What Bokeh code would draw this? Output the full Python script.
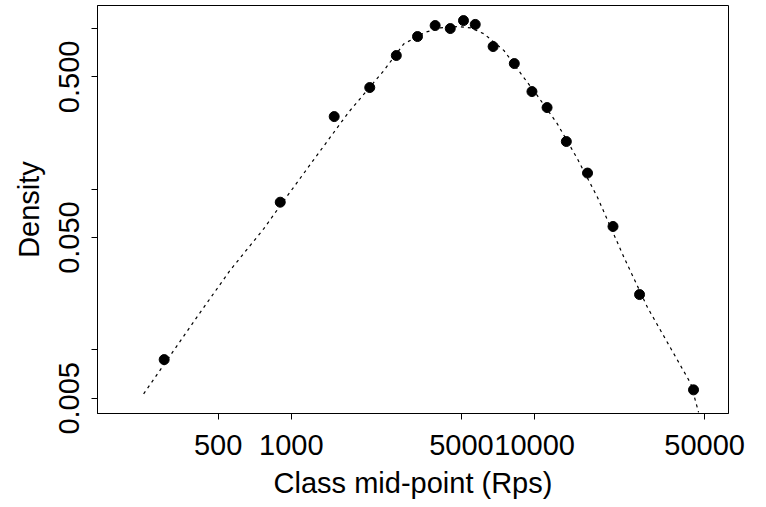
from bokeh.plotting import figure
from bokeh.models import Range1d, FixedTicker, NumeralTickFormatter
from bokeh.embed import file_html
from bokeh.resources import INLINE

# Observed class mid-points (Rps) and densities
class_mid = [300, 900, 1500, 2100, 2700, 3300, 3900, 4500, 5100, 5700,
             6750, 8250, 9750, 11250, 13500, 16500, 21000, 27000, 45000]
density = [0.0087, 0.083, 0.283, 0.429, 0.679, 0.891, 1.043, 0.999, 1.12, 1.06,
           0.772, 0.605, 0.405, 0.322, 0.198, 0.126, 0.0586, 0.0221, 0.00564]

# Fitted density curve
fit_x = [247, 409, 561, 769, 930, 1276, 1722, 2399, 2899, 3557, 4102, 4807,
         5454, 6187, 7477, 8900, 10250, 12400, 14990, 18120, 23290, 29090,
         43850, 47200]
fit_y = [0.00533, 0.0160, 0.0314, 0.0566, 0.0846, 0.163, 0.302, 0.547, 0.802,
         0.948, 1.009, 1.028, 1.009, 0.927, 0.730, 0.509, 0.383, 0.255, 0.1546,
         0.0891, 0.0377, 0.0184, 0.00617, 0.00409]

x_ticks = [500, 1000, 5000, 10000, 50000]
x_tick_labels = ["500", "1000", "5000", "10000", "50000"]
y_ticks = [0.005, 0.05, 0.5]
y_tick_labels = ["0.005", "0.050", "0.500"]
y_minor_ticks = [0.01, 0.1, 1.0]

FONT = "Liberation Sans"

p = figure(width=766, height=507, x_axis_type="log", y_axis_type="log",
           x_range=Range1d(159.6, 62660), y_range=Range1d(0.00402, 1.39),
           output_backend="svg", toolbar_location=None,
           min_border_left=97, min_border_right=38, min_border_top=5,
           min_border_bottom=94, background_fill_color="white",
           border_fill_color="white")

p.xgrid.visible = False
p.ygrid.visible = False
p.outline_line_color = "black"
p.outline_line_width = 1
p.outline_line_alpha = 1

p.line(fit_x, fit_y, line_color="black", line_width=1.2, line_dash="3 4")
p.scatter(class_mid, density, size=10, marker="circle", fill_color="black",
          line_color="black")

xa = p.xaxis[0]
xa.ticker = FixedTicker(ticks=x_ticks, minor_ticks=[])
xa.formatter = NumeralTickFormatter(format="0")
xa.major_label_overrides = {float(t): l for t, l in zip(x_ticks, x_tick_labels)}
xa.axis_label = "Class mid-point (Rps)"

ya = p.yaxis[0]
ya.ticker = FixedTicker(ticks=y_ticks, minor_ticks=y_minor_ticks)
ya.formatter = NumeralTickFormatter(format="0.000")
ya.major_label_overrides = {float(t): l for t, l in zip(y_ticks, y_tick_labels)}
ya.axis_label = "Density"
ya.major_label_orientation = "vertical"

for ax in (xa, ya):
    ax.axis_line_color = "black"
    ax.major_tick_line_color = "black"
    ax.minor_tick_line_color = "black"
    ax.major_tick_in = 0
    ax.major_tick_out = 6
    ax.minor_tick_in = 0
    ax.minor_tick_out = 6
    ax.major_label_text_font = FONT
    ax.major_label_text_font_size = "29px"
    ax.major_label_text_color = "black"
    ax.axis_label_text_font = FONT
    ax.axis_label_text_font_size = "29px"
    ax.axis_label_text_font_style = "normal"
    ax.axis_label_text_color = "black"

xa.minor_tick_line_color = None
xa.major_label_standoff = 15
xa.axis_label_standoff = 9
ya.major_label_standoff = 12
ya.axis_label_standoff = 12

open("out.html", "w").write(file_html(p, INLINE))
